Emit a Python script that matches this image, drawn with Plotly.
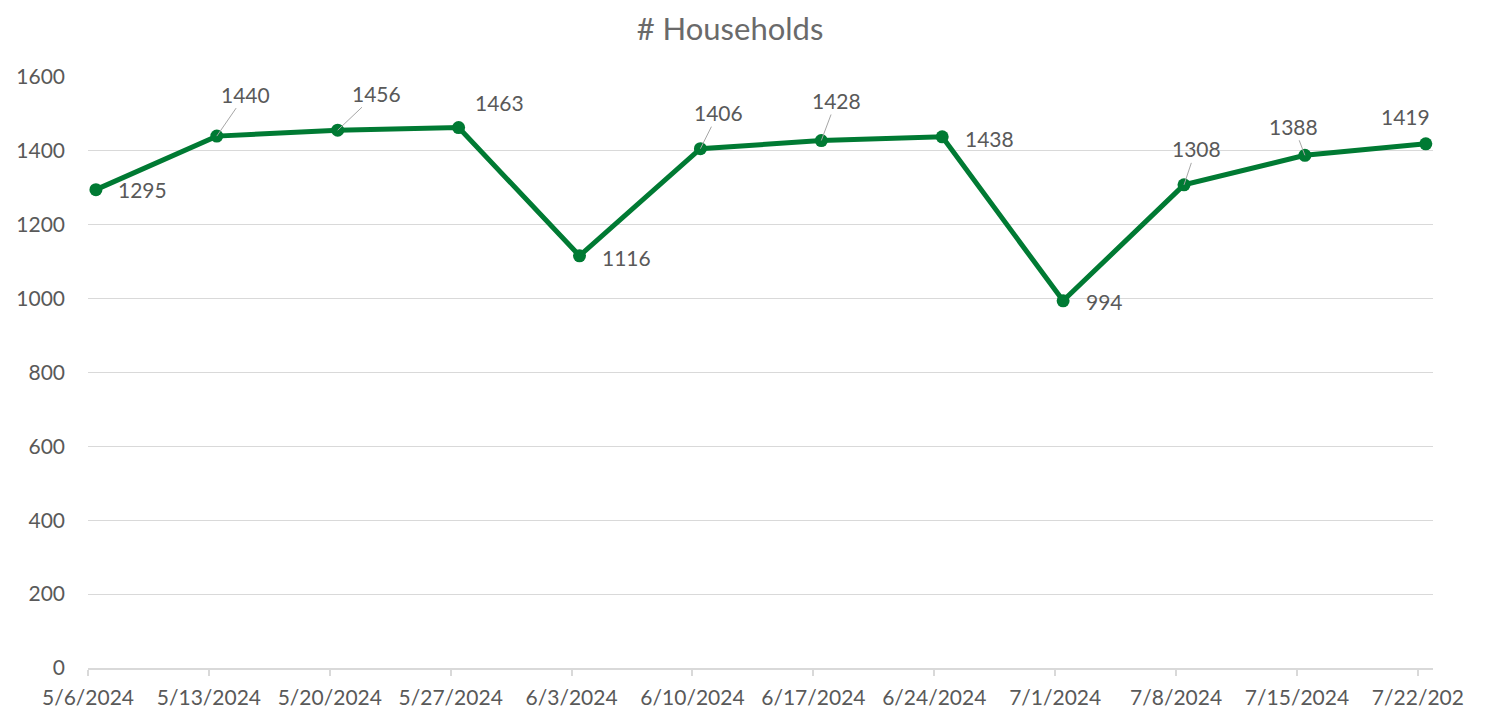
import plotly.graph_objects as go
import pandas as pd

# Data
dates = ["2024-05-06", "2024-05-13", "2024-05-20", "2024-05-27", "2024-06-03", "2024-06-10",
         "2024-06-17", "2024-06-24", "2024-07-01", "2024-07-08", "2024-07-15", "2024-07-22"]
households = [1295, 1440, 1456, 1463, 1116, 1406, 1428, 1438, 994, 1308, 1388, 1419]
tick_labels = ["5/6/2024", "5/13/2024", "5/20/2024", "5/27/2024", "6/3/2024", "6/10/2024",
               "6/17/2024", "6/24/2024", "7/1/2024", "7/8/2024", "7/15/2024", "7/22/202"]
y_ticks = [0, 200, 400, 600, 800, 1000, 1200, 1400, 1600]

# Label placement style (pixel offsets, leader line flag)
label_dx = [47, 29, 39, 41, 47, 18, 15, 47, 41, 12, -11, -20]
label_dy = [0, -42, -37, -25, 2, -36, -40, 2, 1, -36, -29, -27]
leader = [False, True, True, False, False, True, True, False, False, True, True, False]

GREEN = "#007A33"
GRAY = "#595959"
FONT = "Lato, 'Open Sans', sans-serif"
W, H = 1483, 703

tick_dates = pd.to_datetime(dates)
point_dates = tick_dates + pd.Timedelta(hours=11)

fig = go.Figure()
fig.add_trace(go.Scatter(
    x=point_dates, y=households, mode="lines+markers",
    line=dict(color=GREEN, width=5),
    marker=dict(color=GREEN, size=13),
    hoverinfo="skip", showlegend=False,
))

for xd, yv, dx, dy, ld in zip(point_dates, households, label_dx, label_dy, leader):
    if ld:
        fig.add_annotation(x=xd, y=yv, text=str(yv), showarrow=True, arrowhead=0,
                           arrowwidth=1, arrowcolor="#A6A6A6", ax=dx, ay=dy,
                           standoff=0, font=dict(size=21, color=GRAY, family=FONT))
    else:
        fig.add_annotation(x=xd, y=yv, text=str(yv), showarrow=False,
                           xshift=dx, yshift=-dy, font=dict(size=21, color=GRAY, family=FONT))

fig.update_layout(
    width=W, height=H,
    margin=dict(l=80, r=58, t=69, b=43),
    paper_bgcolor="white", plot_bgcolor="white",
    title=dict(text="# Households", x=(730 - 8) / W, xanchor="center", y=1 - 21 / H, yanchor="middle",
               font=dict(size=31, color="#6A6A6A", family=FONT)),
    font=dict(family=FONT, color=GRAY, size=20),
    xaxis=dict(
        type="date", automargin=False,
        range=[tick_dates[0], tick_dates[-1] + pd.Timedelta(hours=21)],
        tickvals=tick_dates, ticktext=tick_labels,
        showgrid=False, zeroline=False,
        showline=True, linecolor="#D9D9D9", linewidth=1.5,
        ticks="outside", ticklen=6, tickcolor="#D9D9D9", tickwidth=1.5,
        ticklabelstandoff=4,
        tickfont=dict(size=21, color=GRAY, family=FONT),
    ),
    yaxis=dict(
        range=[0, 1600], tickvals=y_ticks, automargin=False,
        showgrid=True, gridcolor="#D9D9D9", gridwidth=1,
        zeroline=False, showline=False,
        ticklabelstandoff=22,
        tickfont=dict(size=21, color=GRAY, family=FONT),
    ),
)

fig.write_html("out.html")
